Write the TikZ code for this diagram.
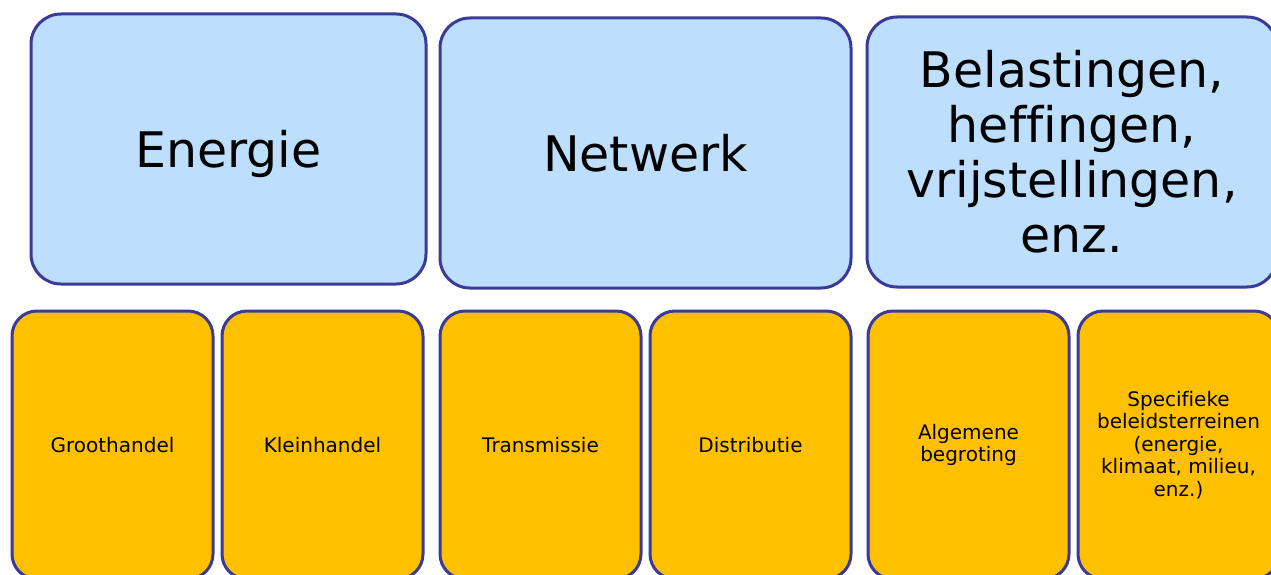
\documentclass[tikz,border=0pt]{standalone}
\usepackage{fontspec}
\setmainfont[Ligatures=NoCommon]{DejaVu Sans}
\definecolor{edge}{RGB}{58,58,152}
\definecolor{topfill}{RGB}{189,222,252}
\definecolor{botfill}{RGB}{255,192,0}
\begin{document}
\begin{tikzpicture}[x=1pt,y=-1pt,
  topbox/.style={draw=edge,fill=topfill,line width=3pt,rounded corners=30pt,
    minimum height=270pt,inner sep=0pt,align=center,
    font=\fontsize{49}{55}\selectfont},
  botbox/.style={draw=edge,fill=botfill,line width=3pt,rounded corners=25pt,
    minimum width=201pt,minimum height=268pt,inner sep=0pt,align=center,
    font=\fontsize{20}{22.5}\selectfont}]
\useasboundingbox (0,0) rectangle (1271,575);
\clip (0,0) rectangle (1271,575);
\node[topbox,minimum width=395pt,text depth=0pt] (energie) at (228.5,149) {Energie};
\node[topbox,minimum width=411pt] (netwerk) at (645.5,153) {Netwerk};
\node[topbox,minimum width=410pt] (belast) at (1072,152) {Belastingen,\\heffingen,\\vrijstellingen,\\enz.};
\node[botbox] (groot) at (112.5,445) {Groothandel};
\node[botbox] (klein) at (322.5,445) {Kleinhandel};
\node[botbox] (trans) at (540.5,445) {Transmissie};
\node[botbox] (distr) at (750.5,445) {Distributie};
\node[botbox] (alg) at (968.5,445) {Algemene\\begroting};
\node[botbox] (spec) at (1178.5,445) {Specifieke\\beleidsterreinen\\(energie,\\klimaat, milieu,\\enz.)};
\end{tikzpicture}
\end{document}
